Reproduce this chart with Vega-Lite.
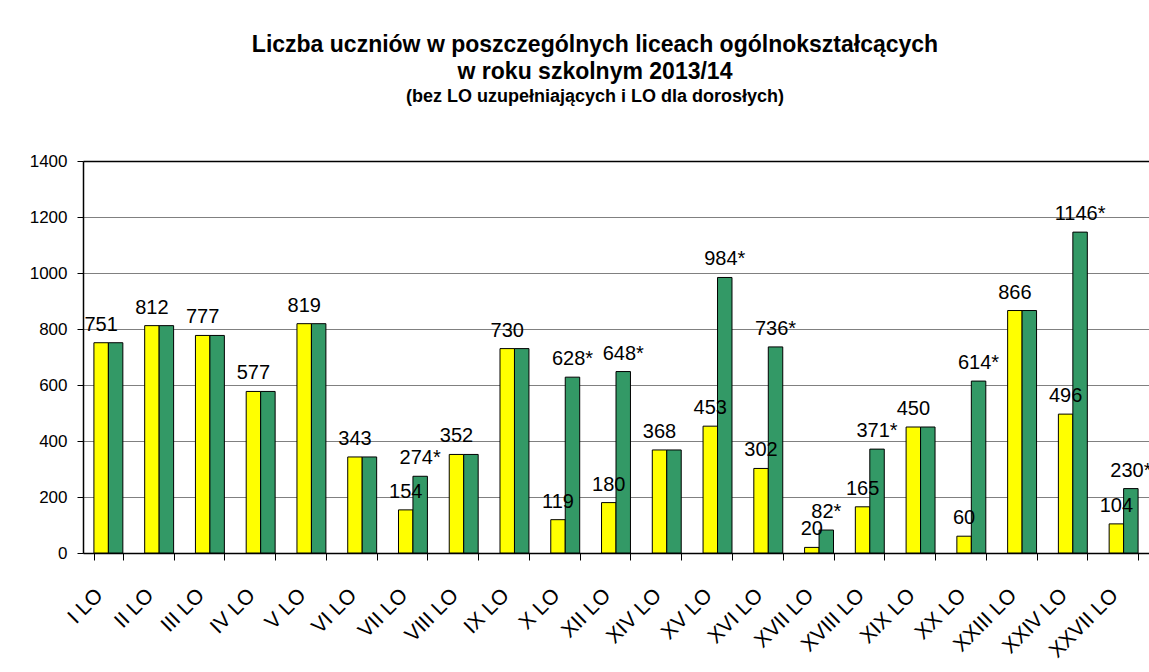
{
  "$schema": "https://vega.github.io/schema/vega-lite/v6.json",
  "width": 1066,
  "height": 392,
  "autosize": "none",
  "padding": {"left": 83, "top": 161, "right": 0, "bottom": 119},
  "background": "white",
  "config": {"view": {"stroke": null}, "font": "Liberation Sans"},
  "title": {
    "text": ["Liczba uczniów w poszczególnych liceach ogólnokształcących", "w roku szkolnym 2013/14"],
    "subtitle": "(bez LO uzupełniających i LO dla dorosłych)",
    "font": "Liberation Sans",
    "fontSize": 23,
    "fontWeight": "bold",
    "lineHeight": 27,
    "color": "black",
    "subtitleFont": "Liberation Sans",
    "subtitleFontSize": 18,
    "subtitleFontWeight": "bold",
    "subtitleColor": "black",
    "subtitlePadding": 4,
    "anchor": "middle",
    "dx": -21,
    "offset": 46
  },
  "data": {
    "values": [
      {"szkola": "I LO", "seria": "A", "wartosc": 751, "etykieta": "751"},
      {"szkola": "I LO", "seria": "B", "wartosc": 751, "etykieta": ""},
      {"szkola": "II LO", "seria": "A", "wartosc": 812, "etykieta": "812"},
      {"szkola": "II LO", "seria": "B", "wartosc": 812, "etykieta": ""},
      {"szkola": "III LO", "seria": "A", "wartosc": 777, "etykieta": "777"},
      {"szkola": "III LO", "seria": "B", "wartosc": 777, "etykieta": ""},
      {"szkola": "IV LO", "seria": "A", "wartosc": 577, "etykieta": "577"},
      {"szkola": "IV LO", "seria": "B", "wartosc": 577, "etykieta": ""},
      {"szkola": "V LO", "seria": "A", "wartosc": 819, "etykieta": "819"},
      {"szkola": "V LO", "seria": "B", "wartosc": 819, "etykieta": ""},
      {"szkola": "VI LO", "seria": "A", "wartosc": 343, "etykieta": "343"},
      {"szkola": "VI LO", "seria": "B", "wartosc": 343, "etykieta": ""},
      {"szkola": "VII LO", "seria": "A", "wartosc": 154, "etykieta": "154"},
      {"szkola": "VII LO", "seria": "B", "wartosc": 274, "etykieta": "274*"},
      {"szkola": "VIII LO", "seria": "A", "wartosc": 352, "etykieta": "352"},
      {"szkola": "VIII LO", "seria": "B", "wartosc": 352, "etykieta": ""},
      {"szkola": "IX LO", "seria": "A", "wartosc": 730, "etykieta": "730"},
      {"szkola": "IX LO", "seria": "B", "wartosc": 730, "etykieta": ""},
      {"szkola": "X LO", "seria": "A", "wartosc": 119, "etykieta": "119"},
      {"szkola": "X LO", "seria": "B", "wartosc": 628, "etykieta": "628*"},
      {"szkola": "XII LO", "seria": "A", "wartosc": 180, "etykieta": "180"},
      {"szkola": "XII LO", "seria": "B", "wartosc": 648, "etykieta": "648*"},
      {"szkola": "XIV LO", "seria": "A", "wartosc": 368, "etykieta": "368"},
      {"szkola": "XIV LO", "seria": "B", "wartosc": 368, "etykieta": ""},
      {"szkola": "XV LO", "seria": "A", "wartosc": 453, "etykieta": "453"},
      {"szkola": "XV LO", "seria": "B", "wartosc": 984, "etykieta": "984*"},
      {"szkola": "XVI LO", "seria": "A", "wartosc": 302, "etykieta": "302"},
      {"szkola": "XVI LO", "seria": "B", "wartosc": 736, "etykieta": "736*"},
      {"szkola": "XVII LO", "seria": "A", "wartosc": 20, "etykieta": "20"},
      {"szkola": "XVII LO", "seria": "B", "wartosc": 82, "etykieta": "82*"},
      {"szkola": "XVIII LO", "seria": "A", "wartosc": 165, "etykieta": "165"},
      {"szkola": "XVIII LO", "seria": "B", "wartosc": 371, "etykieta": "371*"},
      {"szkola": "XIX LO", "seria": "A", "wartosc": 450, "etykieta": "450"},
      {"szkola": "XIX LO", "seria": "B", "wartosc": 450, "etykieta": ""},
      {"szkola": "XX LO", "seria": "A", "wartosc": 60, "etykieta": "60"},
      {"szkola": "XX LO", "seria": "B", "wartosc": 614, "etykieta": "614*"},
      {"szkola": "XXIII LO", "seria": "A", "wartosc": 866, "etykieta": "866"},
      {"szkola": "XXIII LO", "seria": "B", "wartosc": 866, "etykieta": ""},
      {"szkola": "XXIV LO", "seria": "A", "wartosc": 496, "etykieta": "496"},
      {"szkola": "XXIV LO", "seria": "B", "wartosc": 1146, "etykieta": "1146*"},
      {"szkola": "XXVII LO", "seria": "A", "wartosc": 104, "etykieta": "104"},
      {"szkola": "XXVII LO", "seria": "B", "wartosc": 230, "etykieta": "230*"}
    ]
  },
  "resolve": {"axis": {"x": "independent"}},
  "layer": [
    {
      "mark": {"type": "bar", "stroke": "black", "strokeWidth": 1},
      "encoding": {
        "x": {
          "field": "szkola", "type": "nominal", "sort": null,
          "scale": {"paddingInner": 0.43, "paddingOuter": 0.215},
          "axis": {
            "orient": "bottom", "title": null, "tickBand": "extent",
            "domainColor": "black", "domainWidth": 1.5, "tickColor": "black", "tickSize": 7,
            "labelAngle": -45, "labelAlign": "right", "labelBaseline": "middle",
            "labelFontSize": 21, "labelColor": "black", "labelPadding": 32, "labelOffset": -9,
            "labelFont": "Liberation Sans"
          }
        },
        "xOffset": {"field": "seria", "type": "nominal", "scale": {"domain": ["A", "B"], "paddingInner": 0, "paddingOuter": 0}},
        "y": {
          "field": "wartosc", "type": "quantitative",
          "scale": {"domain": [0, 1400], "nice": false},
          "axis": {
            "title": null, "values": [0, 200, 400, 600, 800, 1000, 1200, 1400], "format": "d",
            "grid": true, "gridColor": "#808080", "gridWidth": 1,
            "domainColor": "black", "domainWidth": 1.5, "tickColor": "black", "tickSize": 6,
            "labelFontSize": 17, "labelColor": "black", "labelPadding": 10, "labelFont": "Liberation Sans"
          }
        },
        "color": {"field": "seria", "type": "nominal", "scale": {"domain": ["A", "B"], "range": ["#FFFF00", "#339966"]}, "legend": null}
      }
    },
    {
      "transform": [{"filter": "datum.etykieta != ''"}],
      "mark": {"type": "text", "baseline": "alphabetic", "align": "center", "dy": -12, "fontSize": 20, "font": "Liberation Sans", "color": "black"},
      "encoding": {
        "x": {
          "field": "szkola", "type": "nominal", "sort": null,
          "axis": {"orient": "top", "title": null, "labels": false, "ticks": false, "domainColor": "black", "domainWidth": 1.5}
        },
        "xOffset": {"field": "seria", "type": "nominal"},
        "y": {"field": "wartosc", "type": "quantitative"},
        "text": {"field": "etykieta"}
      }
    }
  ]
}
